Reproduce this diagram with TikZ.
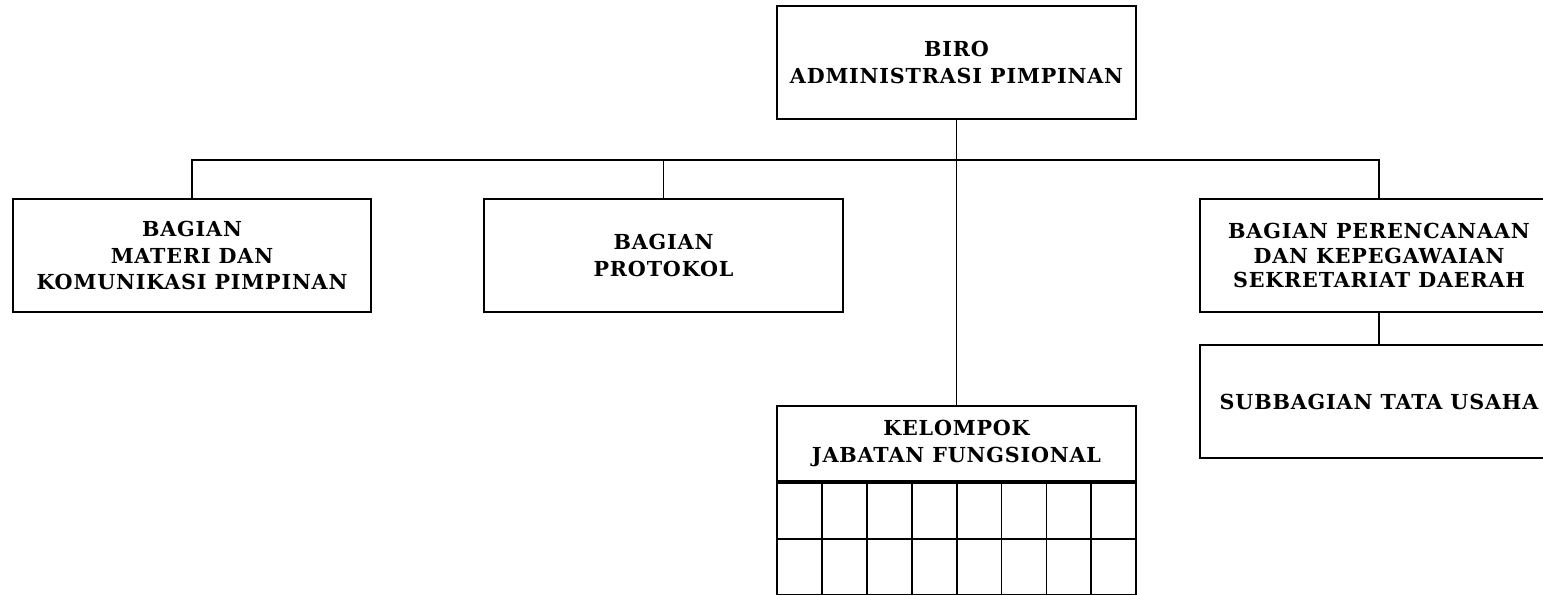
\documentclass[tikz,border=0pt]{standalone}
\usepackage{fontspec}
\setmainfont{DejaVu Serif}
\newfontfamily\orgfont[LetterSpace=4]{DejaVu Serif}
\usepackage{tikz}
\usetikzlibrary{positioning}
\definecolor{orgline}{RGB}{0,0,0}
\tikzset{
  unitbox/.style={draw=orgline, line width=1.3pt, minimum width=269pt, minimum height=85pt,
    align=center, inner sep=0pt, font=\orgfont\fontsize{15.5}{20}\selectfont\bfseries},
  headbox/.style={unitbox, minimum height=56.25pt},
  cellbox/.style={draw=orgline, line width=1.3pt, minimum width=33.66pt, minimum height=42pt,
    inner sep=0pt, anchor=north west},
  link/.style={draw=orgline, line width=1.3pt}
}
\begin{document}
\begin{tikzpicture}[x=0.75pt,y=-0.75pt]

    % page frame
    \useasboundingbox (0,0) rectangle (1543,594);
    \clip (0,0) rectangle (1543,594);

    % head of the bureau
    \node[unitbox] (biro) at (956.5,62.5) {BIRO\\ADMINISTRASI PIMPINAN};

    % sections
    \node[unitbox] (materi) at (192,255.5) {BAGIAN\\MATERI DAN\\KOMUNIKASI PIMPINAN};
    \node[unitbox] (protokol) at (663.5,255.5) {BAGIAN\\PROTOKOL};
    \node[unitbox, font=\orgfont\fontsize{15.5}{18.5}\selectfont\bfseries] (perencanaan) at (1379,255.5)
      {BAGIAN PERENCANAAN\\DAN KEPEGAWAIAN\\SEKRETARIAT DAERAH};
    \node[unitbox] (subbagian) at (1379,401.5) {SUBBAGIAN TATA USAHA};

    % functional group with its table
    \node[headbox] (kelompok) at (956.5,443.5) {KELOMPOK\\JABATAN FUNGSIONAL};
    \foreach \r in {0,1}
      \foreach \c in {0,...,7}
        \node[cellbox] (cell\r\c) at ([shift={(\c*44.875,\r*56)}]kelompok.south west) {};

    % connectors
    \coordinate (bus) at (956.5,160);
    \draw[link] (biro.south) -- (kelompok.north);
    \draw[link] (materi.north) -- (materi.north |- bus) -- (perencanaan.north |- bus) -- (perencanaan.north);
    \draw[link] (protokol.north) -- (protokol.north |- bus);
    \draw[link] (perencanaan.south) -- (subbagian.north);

\end{tikzpicture}
\end{document}
